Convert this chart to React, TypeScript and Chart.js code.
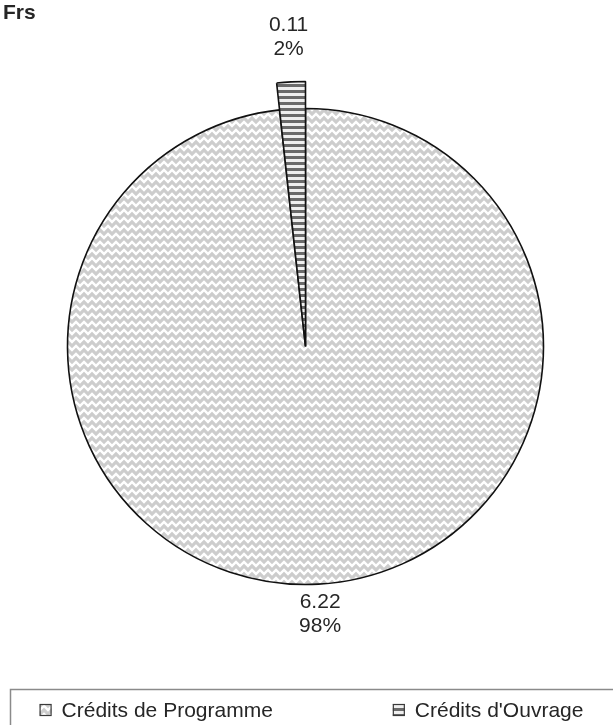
import { useEffect, useRef } from "react";
import { Chart, registerables } from "chart.js";

Chart.register(...registerables);

// ---------- data ----------
const CATEGORIES = ["Crédits de Programme", "Crédits d'Ouvrage"];
const VALUES = [6.22, 0.11];
const UNIT_LABEL = "Frs";

// ---------- style ----------
const W = 613;
const H = 725;
const FONT = "'Liberation Sans', Arial, sans-serif";
const TEXT_COLOR = "#262626";
const PIE_RADIUS = 238;
const EXTRA_RADIUS = [0, 27];
const LABEL_GAP = [30, 45];
const LABEL_FONT_SIZE = 21;
const LABEL_LINE = 24;
const LEGEND_FONT_SIZE = 21;

function makeWeavePattern(): CanvasPattern | string {
  const c = document.createElement("canvas");
  c.width = 8;
  c.height = 8;
  const g = c.getContext("2d");
  if (!g) return "#dddddd";
  g.fillStyle = "#cdcdcd";
  g.fillRect(0, 0, 8, 8);
  g.strokeStyle = "#ffffff";
  g.lineWidth = 2.4;
  g.beginPath();
  g.moveTo(-1, 7);
  g.lineTo(4, 2);
  g.lineTo(9, 7);
  g.stroke();
  return g.createPattern(c, "repeat") || "#dddddd";
}

function makeStripePattern(): CanvasPattern | string {
  const c = document.createElement("canvas");
  c.width = 6;
  c.height = 6;
  const g = c.getContext("2d");
  if (!g) return "#888888";
  g.fillStyle = "#efefef";
  g.fillRect(0, 0, 6, 6);
  g.fillStyle = "#6a6a6a";
  g.fillRect(0, 0, 6, 3);
  return g.createPattern(c, "repeat") || "#888888";
}

const extraRadiusPlugin = {
  id: "extraRadius",
  afterDatasetsUpdate(chart: any) {
    const meta = chart.getDatasetMeta(0);
    meta.data.forEach((arc: any, i: number) => {
      arc.outerRadius = arc.outerRadius + (EXTRA_RADIUS[i] || 0);
    });
  },
};

const labelsPlugin = {
  id: "sliceLabels",
  afterDatasetsDraw(chart: any) {
    const ctx = chart.ctx;
    const meta = chart.getDatasetMeta(0);
    const data = chart.data.datasets[0].data as number[];
    const total = data.reduce((a, b) => a + b, 0);
    ctx.save();
    ctx.font = `${LABEL_FONT_SIZE}px ${FONT}`;
    ctx.fillStyle = TEXT_COLOR;
    ctx.textAlign = "center";
    ctx.textBaseline = "middle";
    meta.data.forEach((arc: any, i: number) => {
      const mid = (arc.startAngle + arc.endAngle) / 2;
      const d = arc.outerRadius + LABEL_GAP[i];
      const x = arc.x + Math.cos(mid) * d;
      const y = arc.y + Math.sin(mid) * d;
      const v = data[i];
      const pct = Math.round((v / total) * 100) + "%";
      ctx.fillText(v.toFixed(2), x, y - LABEL_LINE / 2);
      ctx.fillText(pct, x, y + LABEL_LINE / 2);
    });
    ctx.restore();
  },
};

const legendPlugin = {
  id: "boxLegend",
  afterDraw(chart: any) {
    const ctx = chart.ctx;
    const bg = chart.data.datasets[0].backgroundColor as any[];
    const labels = chart.data.labels as string[];
    ctx.save();
    // unit label
    ctx.font = `bold ${LEGEND_FONT_SIZE}px ${FONT}`;
    ctx.fillStyle = TEXT_COLOR;
    ctx.textAlign = "left";
    ctx.textBaseline = "middle";
    ctx.fillText(UNIT_LABEL, 3, 13);

    // legend frame
    ctx.strokeStyle = "#8a8a8a";
    ctx.lineWidth = 1.5;
    ctx.strokeRect(10.5, 689.5, W + 20, 80);

    ctx.font = `${LEGEND_FONT_SIZE}px ${FONT}`;
    const box = 12;
    const gapText = 10;
    const itemGap = 120;
    const widths = labels.map((l) => box + gapText + ctx.measureText(l).width);
    const total = widths.reduce((a, b) => a + b, 0) + itemGap * (labels.length - 1);
    let x = (W - total) / 2 + 5;
    const cy = 710;
    labels.forEach((l, i) => {
      ctx.fillStyle = bg[i];
      ctx.fillRect(x, cy - box / 2, box, box);
      ctx.strokeStyle = "#3a3a3a";
      ctx.lineWidth = 1.2;
      ctx.strokeRect(x + 0.5, cy - box / 2 + 0.5, box - 1, box - 1);
      ctx.fillStyle = TEXT_COLOR;
      ctx.fillText(l, x + box + gapText, cy + 1);
      x += widths[i] + itemGap;
    });
    ctx.restore();
  },
};

export default function App() {
  const ref = useRef<HTMLCanvasElement | null>(null);
  useEffect(() => {
    if (!ref.current) return;
    const weave = makeWeavePattern();
    const stripes = makeStripePattern();
    const chart = new Chart(ref.current, {
      type: "pie",
      data: {
        labels: CATEGORIES,
        datasets: [
          {
            data: VALUES,
            backgroundColor: [weave, stripes] as any,
            borderColor: "#111111",
            borderWidth: 1.6,
            radius: PIE_RADIUS,
            clip: false as any,
          } as any,
        ],
      },
      options: {
        responsive: false,
        animation: false,
        devicePixelRatio: 1,
        rotation: 0,
        layout: { padding: { left: 67, right: 69, top: 108, bottom: 140 } },
        plugins: {
          legend: { display: false },
          tooltip: { enabled: false },
          title: { display: false },
        },
      },
      plugins: [extraRadiusPlugin, labelsPlugin, legendPlugin],
    });
    return () => chart.destroy();
  }, []);
  return (
    <div style={{ position: "fixed", left: 0, top: 0, width: W, height: H, background: "#fff" }}>
      <canvas ref={ref} width={W} height={H} style={{ display: "block" }} />
    </div>
  );
}
